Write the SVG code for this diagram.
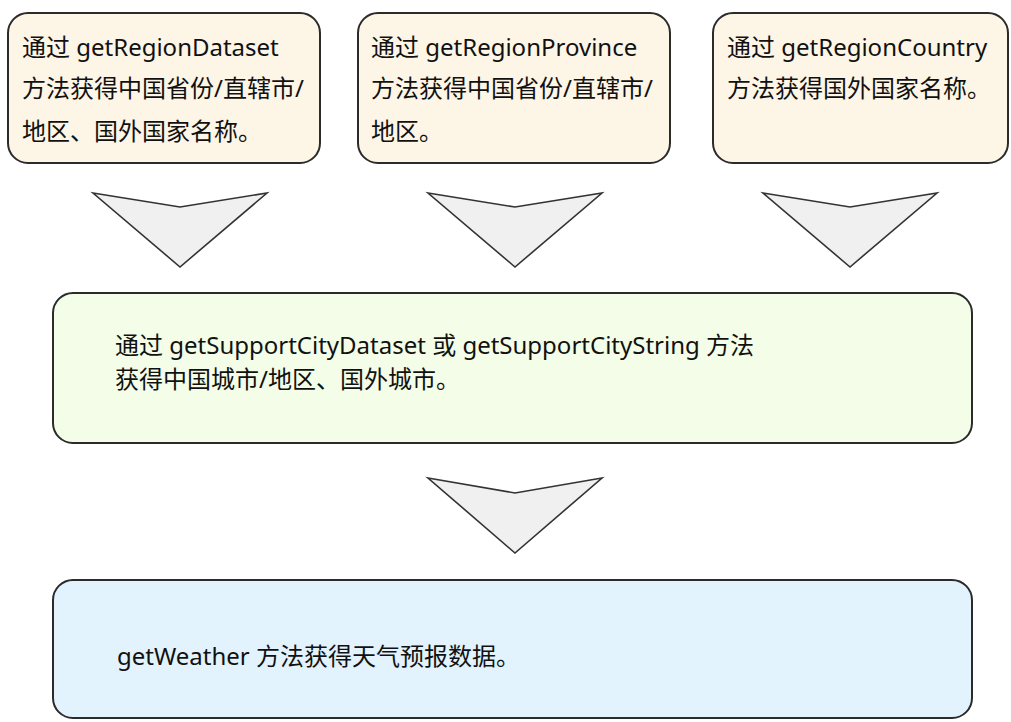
<svg xmlns="http://www.w3.org/2000/svg" width="1011" height="722" viewBox="0 0 1011 722">
<style>
.box{stroke:#2b2b2b;stroke-width:2}
.top{fill:#fdf5e6}
.mid{fill:#f4fde7}
.bot{fill:#e2f3fd}
.arrow{fill:#f0f0f0;stroke:#333;stroke-width:1.6;stroke-linejoin:miter}
text{font-family:"Noto Sans","Noto Sans CJK SC",sans-serif;font-size:24px;fill:#111}
</style>
<rect width="1011" height="722" fill="#ffffff"/>
<g id="node-region-dataset">
<rect class="box top" x="8" y="13" width="312" height="150" rx="20"/>
<text x="22" y="56">通过 getRegionDataset</text>
<text x="22" y="97">方法获得中国省份/直辖市/</text>
<text x="22" y="140">地区、国外国家名称。</text>
</g>
<g id="node-region-province">
<rect class="box top" x="358" y="13" width="312" height="150" rx="20"/>
<text x="371" y="56">通过 getRegionProvince</text>
<text x="371" y="97">方法获得中国省份/直辖市/</text>
<text x="371" y="140">地区。</text>
</g>
<g id="node-region-country">
<rect class="box top" x="713" y="13" width="295" height="150" rx="20"/>
<text x="727" y="56">通过 getRegionCountry</text>
<text x="727" y="97">方法获得国外国家名称。</text>
</g>
<g id="node-support-city">
<rect class="box mid" x="53" y="293" width="919" height="150" rx="20"/>
<text x="115" y="354">通过 getSupportCityDataset 或 getSupportCityString 方法</text>
<text x="115" y="388">获得中国城市/地区、国外城市。</text>
</g>
<g id="node-weather">
<rect class="box bot" x="53" y="580" width="919" height="138" rx="20"/>
<text x="117" y="665">getWeather 方法获得天气预报数据。</text>
</g>
<g id="connectors">
<polygon class="arrow" points="93,193 180,207 267,193 180,267"/>
<polygon class="arrow" points="428,193 515,207 602,193 515,267"/>
<polygon class="arrow" points="763,193 850,207 937,193 850,267"/>
<polygon class="arrow" points="428,478 515,493 602,478 515,553"/>
</g>
</svg>
